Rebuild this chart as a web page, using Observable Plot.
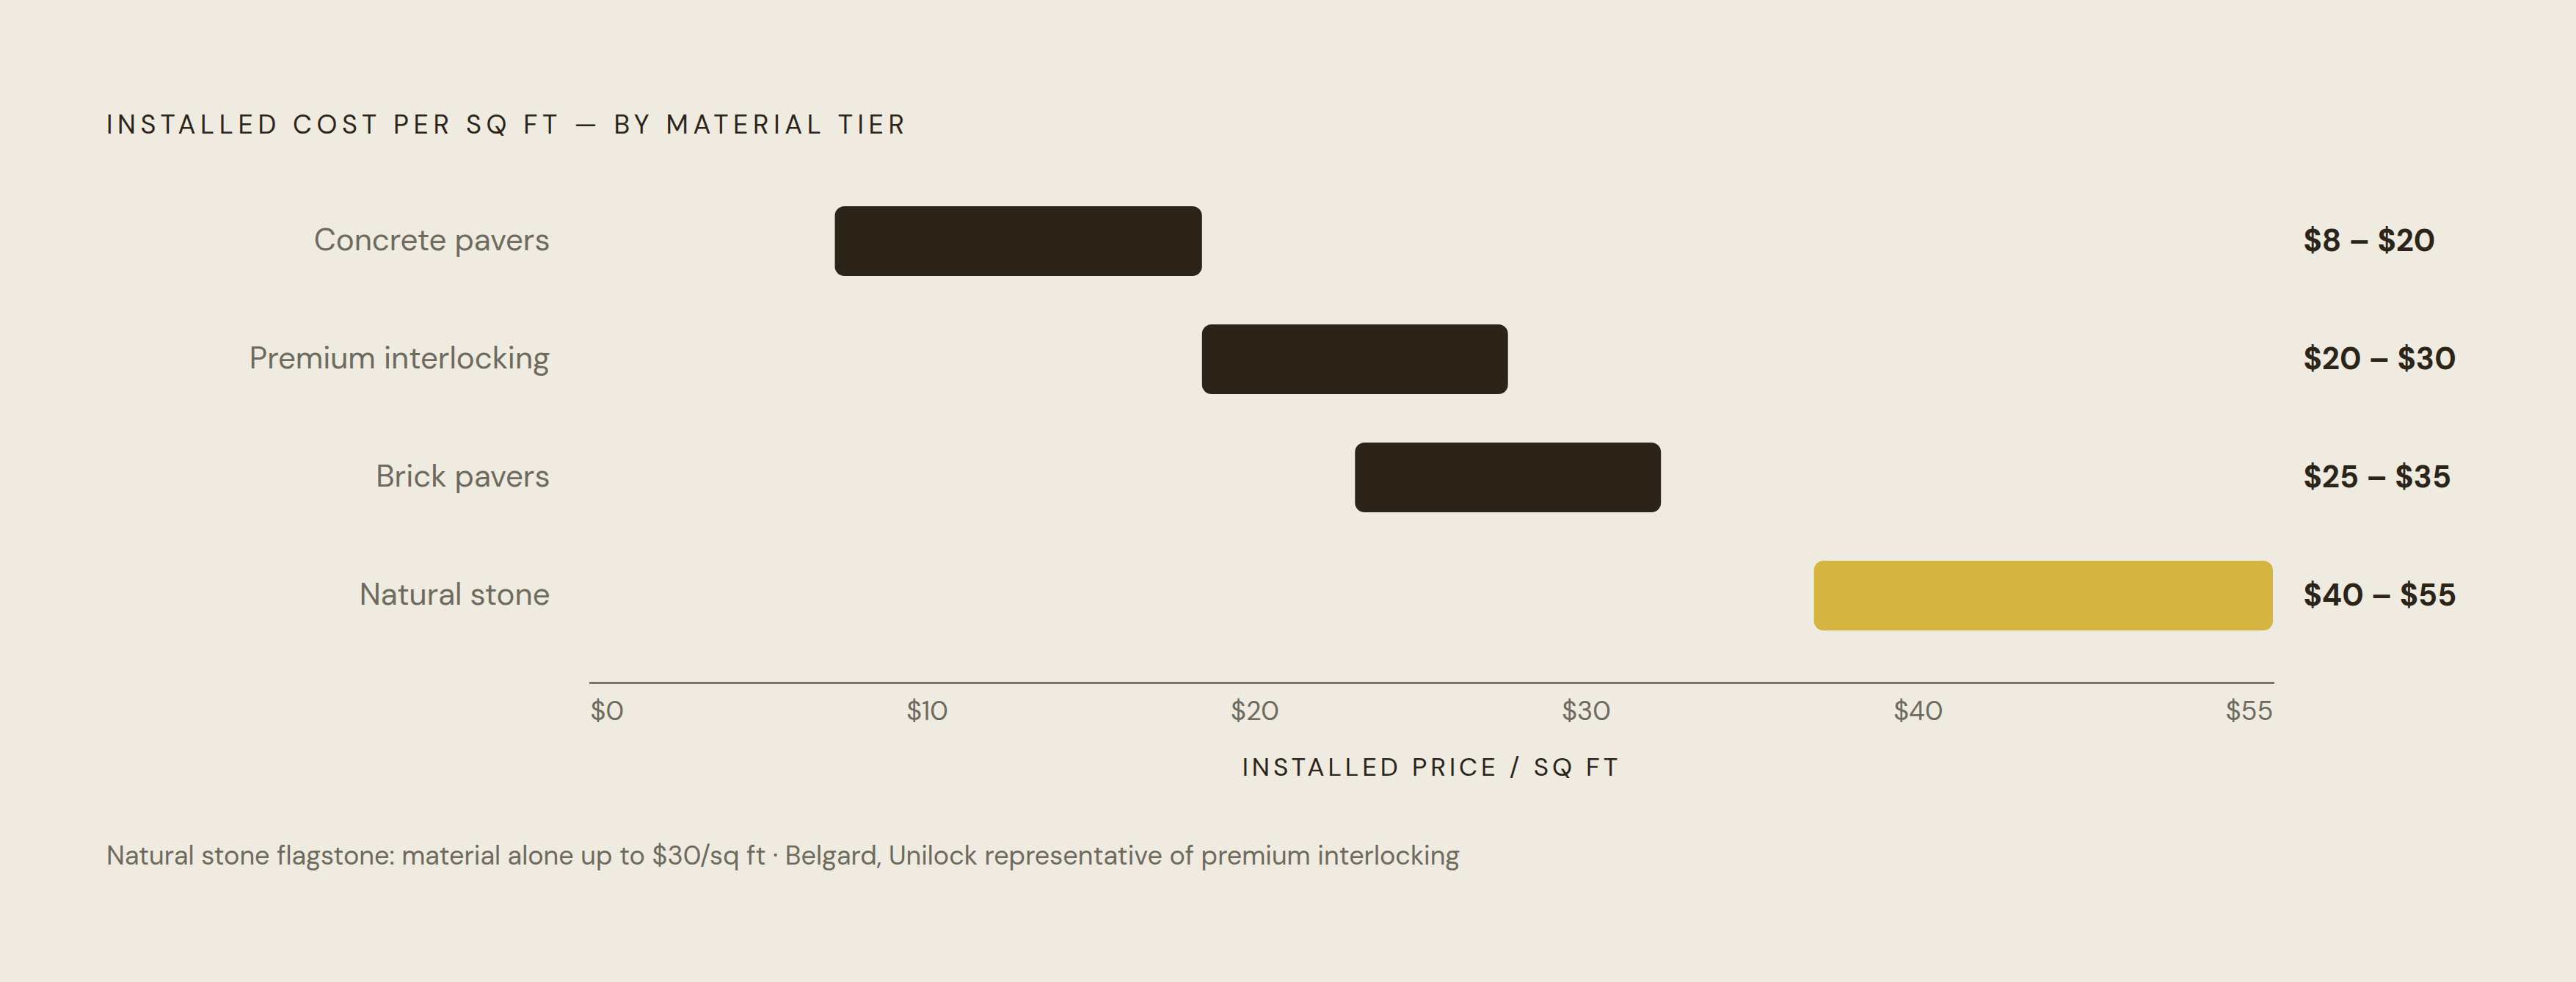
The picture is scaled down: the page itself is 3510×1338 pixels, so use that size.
<!DOCTYPE html>
<html>
<head>
<meta charset="utf-8">
<script src="https://cdn.jsdelivr.net/npm/d3@7"></script>
<script src="https://cdn.jsdelivr.net/npm/@observablehq/plot@0.6"></script>
<style>
  html, body { margin: 0; padding: 0; background: #efebe1; }
  body { width: 3510px; height: 1338px; overflow: hidden; font-family: "DM Sans", Inter, "Noto Sans", sans-serif; }
  #title { height: 220px; box-sizing: border-box; padding: 150px 0 0 145px; font-size: 36px; line-height: 40px; letter-spacing: 0.185em; color: #2c2419; }
  #footer { padding: 0 0 0 145px; margin-top: 64px; font-size: 36px; line-height: 44px; color: #6e6a5e; }
</style>
</head>
<body>
<div id="title">INSTALLED COST PER SQ FT — BY MATERIAL TIER</div>
<div id="chart"></div>
<div id="footer">Natural stone flagstone: material alone up to $30/sq ft · Belgard, Unilock representative of premium interlocking</div>
<script>
const categories = ["Concrete pavers", "Premium interlocking", "Brick pavers", "Natural stone"];
const lows = [8, 20, 25, 40];
const highs = [20, 30, 35, 55];
const highlighted = [false, false, false, true];
const tickLabels = ["$0", "$10", "$20", "$30", "$40", "$55"];
const xMax = 55;
const axisTitle = "INSTALLED PRICE / SQ FT";

const rows = categories.map((c, i) => ({
  name: c, lo: lows[i], hi: highs[i], hl: highlighted[i],
  label: `$${lows[i]} – $${highs[i]}`
}));

const W = 3510, mL = 804, mR = 3510 - 3097, H = 860, mT = 27, mB = H - 710;
const fontFam = '"DM Sans", Inter, "Noto Sans", sans-serif';

// space-between placement of tick labels along the x range
const ctx = document.createElement("canvas").getContext("2d");
ctx.font = `400 36px ${fontFam}`;
const widths = tickLabels.map(t => ctx.measureText(t).width);
const span = W - mR - mL;
const gap = (span - d3.sum(widths)) / (tickLabels.length - 1);
let acc = mL;
const px2v = d3.scaleLinear([mL, W - mR], [0, xMax]);
const ticks = tickLabels.map((t, i) => { const v = px2v(acc); acc += widths[i] + gap; return {t, v}; });

const plot = Plot.plot({
  width: W, height: H,
  marginLeft: mL, marginRight: mR, marginTop: mT, marginBottom: mB,
  style: { background: "transparent", fontFamily: fontFam },
  x: { domain: [0, xMax], axis: null },
  y: { domain: categories, padding: 0, insetBottom: 37, label: null },
  marks: [
    Plot.axisY({ tickSize: 0, tickPadding: 55, fontSize: 42, dy: -1, color: "#6e6a5e", label: null }),
    Plot.barX(rows, { x1: "lo", x2: "hi", y: "name", fill: d => d.hl ? "#d4b542" : "#2c2419", insetTop: 33, insetBottom: 33, rx: 13 }),
    Plot.text(rows, { y: "name", text: "label", frameAnchor: "right", dx: 41, textAnchor: "start", fontSize: 42, fontWeight: 700, fill: "#2c2419" }),
    Plot.frame({ anchor: "bottom", stroke: "#7a7567", strokeWidth: 3, strokeOpacity: 1 }),
    Plot.text(ticks, { x: "v", text: "t", frameAnchor: "bottom", dy: 50, textAnchor: "start", fontSize: 36, fill: "#6e6a5e" }),
    Plot.text([axisTitle], { frameAnchor: "bottom", dy: 126, fontSize: 35, fill: "#2c2419" })
  ]
});
plot.querySelectorAll("text").forEach(t => {
  if (t.textContent === axisTitle) t.setAttribute("letter-spacing", "0.14em");
});
document.getElementById("chart").appendChild(plot);
</script>
</body>
</html>
